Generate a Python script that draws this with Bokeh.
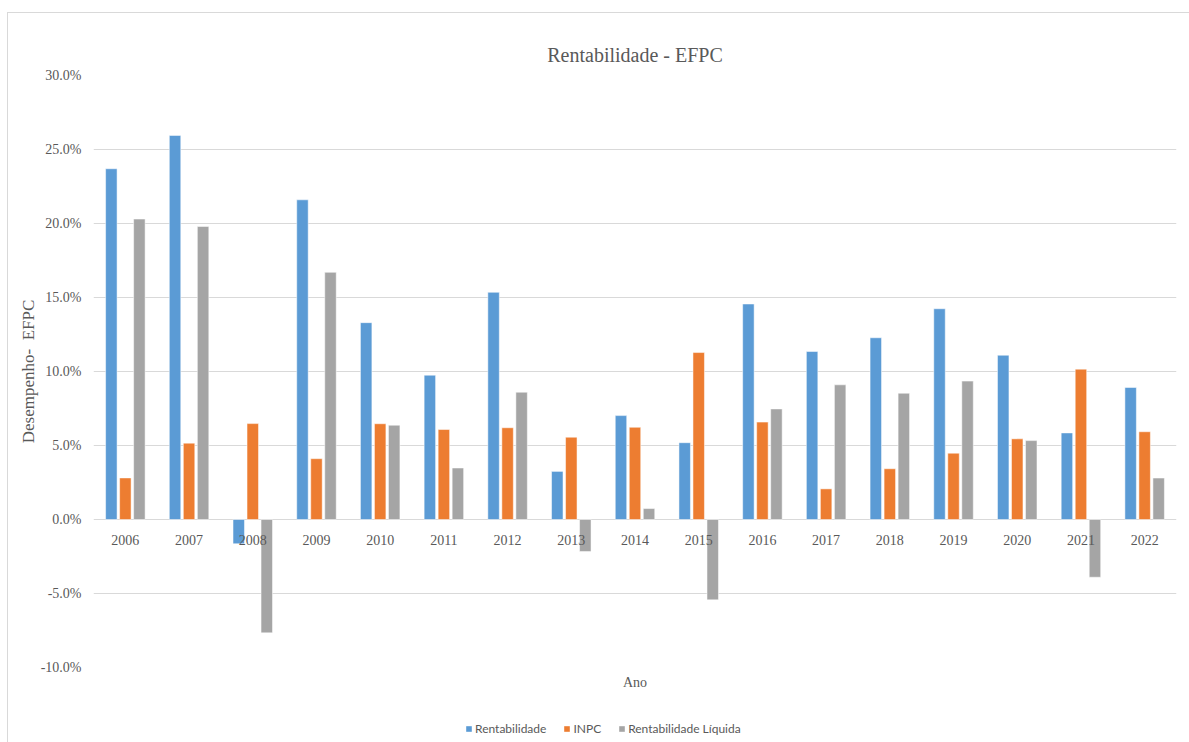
from bokeh.plotting import figure
from bokeh.layouts import column
from bokeh.models import (FactorRange, Range1d, SingleIntervalTicker, PrintfTickFormatter,
                          ColumnDataSource, Legend, LegendItem, Title)
from bokeh.transform import dodge
from bokeh.core.properties import value
from bokeh.embed import file_html
from bokeh.resources import INLINE

# Desempenho anual (%)
anos = ["2006", "2007", "2008", "2009", "2010", "2011", "2012", "2013", "2014",
        "2015", "2016", "2017", "2018", "2019", "2020", "2021", "2022"]
rentabilidade = [23.70, 25.95, -1.64, 21.60, 13.30, 9.75, 15.35, 3.25, 7.02,
                 5.19, 14.56, 11.35, 12.28, 14.24, 11.10, 5.85, 8.92]
inpc = [2.81, 5.16, 6.48, 4.11, 6.47, 6.08, 6.20, 5.56, 6.23,
        11.28, 6.58, 2.07, 3.43, 4.48, 5.45, 10.16, 5.93]
rent_liquida = [20.30, 19.80, -7.66, 16.70, 6.37, 3.48, 8.60, -2.16, 0.74,
                -5.43, 7.47, 9.10, 8.53, 9.35, 5.33, -3.90, 2.80]
series = ["Rentabilidade", "INPC", "Rentabilidade Líquida"]
cores = ["#5B9BD5", "#ED7D31", "#A5A5A5"]

SERIF = "Liberation Serif"
CINZA = "#595959"

src = ColumnDataSource(dict(ano=anos, rent=rentabilidade, inpc=inpc, liq=rent_liquida))

p = figure(
    x_range=FactorRange(*anos), y_range=Range1d(-10, 30),
    frame_width=1083, frame_height=592,
    x_axis_location=None,
    output_backend="svg", toolbar_location=None,
    min_border_left=85, min_border_right=13, min_border_top=62, min_border_bottom=46,
    title="Rentabilidade - EFPC",
)
p.outline_line_color = None
p.background_fill_color = "white"
p.border_fill_color = "white"

p.title.align = "center"
p.title.text_font = SERIF
p.title.text_font_size = "20px"
p.title.text_font_style = "normal"
p.title.text_color = CINZA
p.title.standoff = 20

bw = 0.18
off = 0.22
r1 = p.vbar(x=dodge("ano", -off, range=p.x_range), top="rent", bottom=0, width=bw,
            source=src, fill_color=cores[0], line_color="white", line_width=0.5)
r2 = p.vbar(x=dodge("ano", 0.0, range=p.x_range), top="inpc", bottom=0, width=bw,
            source=src, fill_color=cores[1], line_color="white", line_width=0.5)
r3 = p.vbar(x=dodge("ano", off, range=p.x_range), top="liq", bottom=0, width=bw,
            source=src, fill_color=cores[2], line_color="white", line_width=0.5)

# rótulos dos anos junto à linha do zero
p.text(x="ano", y=0, text="ano", source=src, y_offset=20,
       text_align="center", text_baseline="middle",
       text_font=value(SERIF), text_font_size="14px", text_color=CINZA)

# eixo Y
p.yaxis.ticker = SingleIntervalTicker(interval=5)
p.yaxis.formatter = PrintfTickFormatter(format="%.1f%%")
p.yaxis.axis_line_color = None
p.yaxis.major_tick_line_color = None
p.yaxis.minor_tick_line_color = None
p.yaxis.major_label_standoff = 6
p.yaxis.major_label_text_font = SERIF
p.yaxis.major_label_text_font_size = "14px"
p.yaxis.major_label_text_color = CINZA
p.yaxis.axis_label = "Desempenho- \u00a0EFPC"
p.yaxis.axis_label_text_font = SERIF
p.yaxis.axis_label_text_font_size = "17px"
p.yaxis.axis_label_text_font_style = "normal"
p.yaxis.axis_label_text_color = CINZA
p.yaxis.axis_label_standoff = 0

p.xgrid.grid_line_color = None
p.ygrid.grid_line_color = "#d9d9d9"
p.ygrid.grid_line_width = 1

# título do eixo X
p.add_layout(Title(text="Ano", align="center", text_font=SERIF, text_font_size="14px",
                   text_font_style="normal", text_color=CINZA, standoff=11), "below")

# faixa inferior com a legenda (glifos de amostra ficam fora da área visível)
lf = figure(width=1181, height=29, x_range=(0, 1), y_range=(0, 1),
            x_axis_location=None, y_axis_location=None,
            output_backend="svg", toolbar_location=None,
            min_border=0)
lf.grid.visible = False
lf.outline_line_color = None
lf.border_fill_color = "white"
amostra = ColumnDataSource(dict(x=[-5.0], top=[-5.0]))
lr = [lf.vbar(x="x", top="top", bottom=-6.0, width=0.1, source=amostra,
              fill_color=c, line_color=None)
      for c in cores]

legend = Legend(
    items=[LegendItem(label=s, renderers=[r], index=0) for s, r in zip(series, lr)],
    orientation="horizontal", location=(372, 6),
    glyph_width=7, glyph_height=7, label_standoff=3, spacing=17,
    label_text_font="Lato", label_text_font_size="12px", label_text_color=CINZA,
    border_line_color=None, background_fill_alpha=0, margin=0, padding=0,
)
lf.add_layout(legend)

layout = column(p, lf, spacing=0, margin=(12, 0, 0, 7),
                styles={"border-left": "1px solid #d9d9d9", "border-top": "1px solid #d9d9d9"})

open("out.html", "w").write(file_html(layout, INLINE))
